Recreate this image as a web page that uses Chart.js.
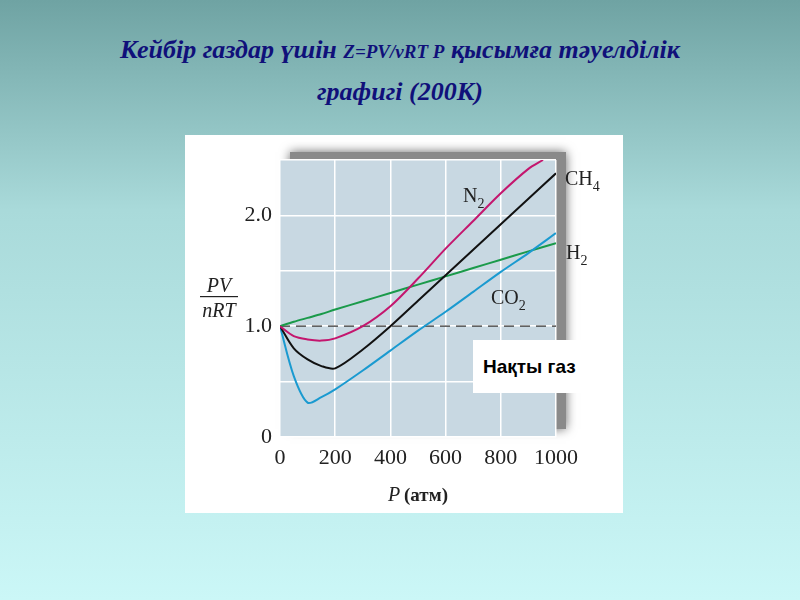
<!DOCTYPE html>
<html><head><meta charset="utf-8">
<script src="https://cdn.jsdelivr.net/npm/chart.js@4/dist/chart.umd.min.js"></script>
<style>
body{margin:0;width:800px;height:600px;overflow:hidden;background:linear-gradient(180deg,#6fa3a3 0%,#a9dada 35%,#cbf7f7 100%);font-family:'Liberation Serif',serif}
h1{position:absolute;left:0;top:30px;width:800px;margin:0;text-align:center;color:#10107a;font-style:italic;font-weight:bold;font-size:26px;line-height:40px}
h1 small{font-size:19px}
#panel{position:absolute;left:185px;top:135px;width:438px;height:378px;background:#fff}
#box{position:absolute;left:473px;top:340px;width:122px;height:53px;background:#fff;font-family:'Liberation Sans',Arial,sans-serif;font-weight:bold;font-size:19px;line-height:53px;padding-left:10px;box-sizing:border-box}
</style></head><body>
<h1>Кейбір газдар үшін <small>Z=PV/νRT P</small> қысымға тәуелділік<br>графигі (200К)</h1>
<div id="panel"><canvas id="c" width="438" height="378"></canvas></div>
<div id="box">Нақты газ</div>
<script>
var pressure = [0, 50, 100, 150, 200, 300, 400, 500, 600, 700, 800, 900, 1000];
var n2  = [1.0, 0.91, 0.88, 0.87, 0.89, 1.0, 1.18, 1.43, 1.70, 1.95, 2.2, 2.42, null];
var ch4 = [1.0, 0.80, 0.70, 0.64, 0.62, 0.79, 1.0, 1.23, 1.46, 1.69, 1.92, 2.15, 2.38];
var co2 = [1.0, 0.55, 0.31, 0.36, 0.43, 0.6, 0.78, 0.96, 1.13, 1.31, 1.49, 1.66, 1.84];
var h2  = [1.0, 1.04, 1.075, 1.11, 1.15, 1.225, 1.3, 1.375, 1.45, 1.525, 1.6, 1.675, 1.75];
var ideal = [1, 1, 1, 1, 1, 1, 1, 1, 1, 1, 1, 1, 1];
var n2End = {x: 953, y: 2.5};

function pts(arr) {
  var out = [];
  for (var i = 0; i < arr.length; i++) if (arr[i] !== null) out.push({x: pressure[i], y: arr[i]});
  return out;
}
var n2Pts = pts(n2); n2Pts.push(n2End);

function line(data, color) {
  return {data: data, borderColor: color, borderWidth: 2, pointRadius: 0, fill: false, tension: 0.3};
}

var bgPlugin = {
  id: 'bg',
  beforeDraw: function(chart) {
    var a = chart.chartArea, ctx = chart.ctx;
    ctx.save();
    ctx.shadowColor = 'rgba(0,0,0,0.6)';
    ctx.shadowBlur = 10;
    ctx.fillStyle = '#8a8a8a';
    ctx.fillRect(a.left + 10, a.top - 8, a.right - a.left, a.bottom - a.top);
    ctx.restore();
    ctx.fillStyle = '#c8d8e2';
    ctx.fillRect(a.left, a.top, a.right - a.left, a.bottom - a.top);
  },
  afterDraw: function(chart) {
    var ctx = chart.ctx;
    function lbl(t, s, x, y) {
      ctx.font = '20px "Liberation Serif"';
      ctx.fillStyle = '#222';
      ctx.fillText(t, x, y);
      var w = ctx.measureText(t).width;
      ctx.font = '14px "Liberation Serif"';
      ctx.fillText(s, x + w, y + 6);
    }
    ctx.textAlign = 'left'; ctx.textBaseline = 'alphabetic';
    lbl('N', '2', 278, 67);
    lbl('CH', '4', 380, 50);
    lbl('H', '2', 381, 124);
    lbl('CO', '2', 306, 169);
    ctx.font = 'italic 20px "Liberation Serif"';
    ctx.textAlign = 'center';
    ctx.fillText('PV', 34, 157);
    ctx.fillText('nRT', 34, 182);
    ctx.fillRect(15, 161, 38, 1.2);
    ctx.fillText('P', 209, 366);
    ctx.font = 'bold 19px "Liberation Serif"';
    ctx.fillText('(атм)', 241, 366);
  }
};

new Chart(document.getElementById('c'), {
  type: 'line',
  data: {datasets: [
    line(n2Pts, '#c4166e'),
    line(pts(ch4), '#111111'),
    line(pts(co2), '#1a9ad0'),
    line(pts(h2), '#1a9a4a'),
    {data: pts(ideal), borderColor: '#333', borderWidth: 1.2, pointRadius: 0, borderDash: [10, 6]}
  ]},
  options: {
    responsive: false, animation: false,
    layout: {padding: {top: 25, right: 67, left: 0, bottom: 0}},
    plugins: {legend: {display: false}, tooltip: {enabled: false}},
    scales: {
      x: {type: 'linear', min: 0, max: 1000,
        ticks: {stepSize: 200, color: '#222', font: {family: 'Liberation Serif', size: 22}, maxRotation: 0, padding: 8,
          callback: function(v) { return String(v); }},
        grid: {color: '#ffffff', lineWidth: 1.5, drawTicks: false}, border: {display: false},
        afterFit: function(s) { s.height = 76; }},
      y: {min: 0, max: 2.5,
        ticks: {stepSize: 0.5, color: '#222', font: {family: 'Liberation Serif', size: 22}, padding: 8,
          callback: function(v) { return v === 0 ? '0' : (v === 1 || v === 2) ? v.toFixed(1) : ''; }},
        grid: {color: '#ffffff', lineWidth: 1.5, drawTicks: false}, border: {display: false},
        afterFit: function(s) { s.width = 95; }}
    }
  },
  plugins: [bgPlugin]
});
</script>
</body></html>
